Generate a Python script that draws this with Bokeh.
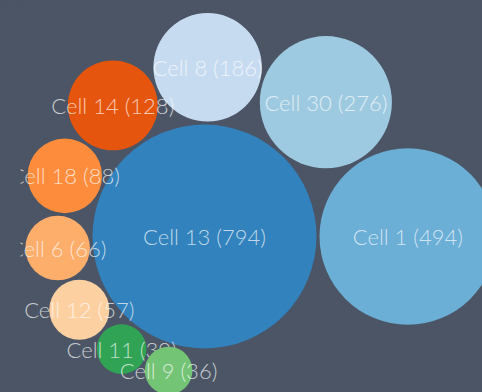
import math
from bokeh.plotting import figure
from bokeh.models import Range1d, ColumnDataSource
from bokeh.core.properties import value
from bokeh.embed import file_html
from bokeh.resources import INLINE

# ---- data ----
cells = ["Cell 13", "Cell 1", "Cell 30", "Cell 8", "Cell 14",
         "Cell 18", "Cell 6", "Cell 12", "Cell 11", "Cell 9"]
counts = [794, 494, 276, 186, 128, 88, 66, 57, 39, 36]
colors = ["#3182bd", "#6baed6", "#9ecae1", "#c6dbef", "#e6550d",
          "#fd8d3c", "#fdae6b", "#fdd0a2", "#31a354", "#74c476"]

BG = "#4b5565"
K = 3.975      # radius scale (px per sqrt(count))
PAD = 3.0      # gap between neighbouring bubbles

# ---- spiral packing: each bubble tangent to the largest and the previous one ----
radii = [K * math.sqrt(v) for v in counts]
xs, ys = [0.0], [0.0]
for i in range(1, len(counts)):
    r = radii[i]
    if i == 1:
        xs.append(radii[0] + r + PAD)
        ys.append(0.0)
        continue
    bx, by = xs[i - 1], ys[i - 1]
    d = math.hypot(bx, by)
    dA = radii[0] + r + PAD
    dB = radii[i - 1] + r + PAD
    cos_t = (dA * dA + d * d - dB * dB) / (2 * dA * d)
    cos_t = max(-1.0, min(1.0, cos_t))
    t = math.acos(cos_t)
    base = math.atan2(by, bx)
    ang = base + t
    xs.append(dA * math.cos(ang))
    ys.append(dA * math.sin(ang))

labels = [f"{c} ({v})" for c, v in zip(cells, counts)]

p = figure(width=482, height=392, output_backend="svg", toolbar_location=None,
           x_range=Range1d(-184, 278), y_range=Range1d(-156, 236),
           min_border_left=20, min_border_right=0, min_border_top=0,
           min_border_bottom=0)
p.background_fill_color = BG
p.border_fill_color = BG
p.outline_line_color = None
p.axis.visible = False
p.grid.visible = False

for i in range(len(counts)):
    src = ColumnDataSource(dict(x=[xs[i]], y=[ys[i]], r=[radii[i]],
                                c=[colors[i]], t=[labels[i]]))
    p.circle(x="x", y="y", radius="r", fill_color="c", line_color=None, source=src)
    p.text(x="x", y="y", text="t", source=src, text_align="center",
           text_baseline="middle", text_font=value("Lato Light, Lato"),
           text_font_size="22px", text_color="#ffffff", text_alpha=0.7)

html = file_html(p, INLINE)
html = html.replace("</head>", "<style>html,body{background:%s;}</style></head>" % BG, 1)
open("out.html", "w").write(html)
